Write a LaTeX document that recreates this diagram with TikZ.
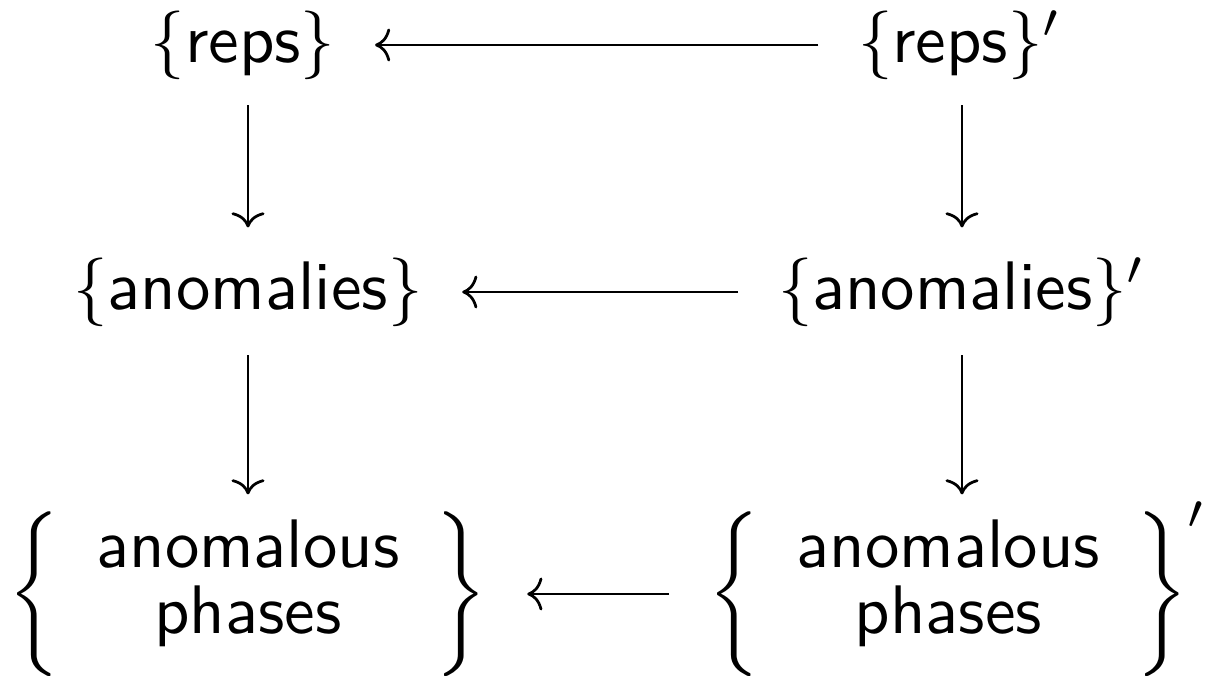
\documentclass[tikz,border=0pt]{standalone}
\usetikzlibrary{arrows.meta}
\newcommand{\twoline}[2]{\raisebox{1.2pt}{$\renewcommand{\arraystretch}{0.75}\setlength{\arraycolsep}{5.3pt}\begin{array}{c}\textsf{#1}\\ \textsf{#2}\end{array}$}}
\begin{document}
\begin{tikzpicture}[x=0.1456pt,y=-0.1456pt,
  obj/.style={inner sep=0pt,outer sep=0pt},
  map/.style={-{Computer Modern Rightarrow[length=2.2pt,width=4.8pt]},line width=0.4pt},
  hmap/.style={map,shorten <=5.8pt,shorten >=5.8pt}]
\useasboundingbox (0,0) rectangle (1207,677);
\node[obj] (R)  at (243,45)  {$\{\textsf{reps}\}$};
\node[obj] (Rp) at (960,45)  {$\{\textsf{reps}\}^{\smash{\prime}}$};
\node[obj] (A)  at (248,292) {$\{\textsf{anomalies}\}$};
\node[obj] (Ap) at (962,292) {$\{\textsf{anomalies}\}^{\smash{\prime}}$};
\node[obj] (P)  at (248,594) {$\biggl\{\twoline{anomalous}{phases}\biggr\}$};
\node[obj] (Pp) at (958,594) {$\biggl\{\twoline{anomalous}{phases}\biggr\}^{\smash{\prime}}$};
\draw[hmap] (Rp.west) -- (R.east);
\draw[hmap] (Ap.west) -- (A.east);
\draw[hmap] (Pp.west) -- (P.east);
\draw[map,shorten <=3.8pt,shorten >=4.4pt] (R.south -| A.north) -- (A.north);
\draw[map,shorten <=3.8pt,shorten >=4.4pt] (Rp.south -| Ap.north) -- (Ap.north);
\draw[map,shorten <=4.2pt,shorten >=2.5pt] (A.south) -- (A.south |- P.north);
\draw[map,shorten <=4.2pt,shorten >=2.5pt] (Ap.south) -- (Ap.south |- Pp.north);
\end{tikzpicture}
\end{document}
